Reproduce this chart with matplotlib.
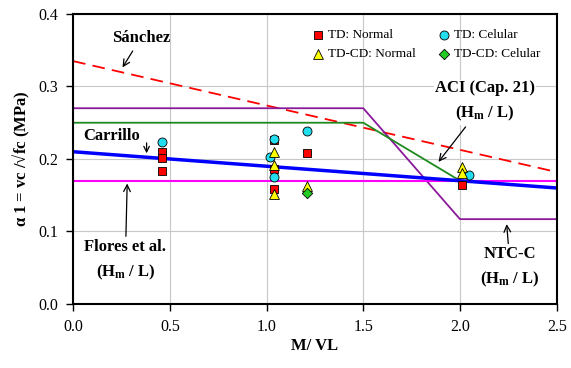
import numpy as np
import matplotlib
matplotlib.use("Agg")
import matplotlib.pyplot as plt

plt.rcParams['font.family'] = ['Liberation Serif', 'DejaVu Serif']
plt.rcParams['mathtext.fontset'] = 'custom'
plt.rcParams['mathtext.rm'] = 'Liberation Serif'
plt.rcParams['mathtext.bf'] = 'Liberation Serif:bold'
plt.rcParams['mathtext.it'] = 'Liberation Serif:italic'

# model curves
x_sanchez = [0.0, 2.5]
y_sanchez = [0.335, 0.182]
x_carrillo = [0.0, 2.5]
y_carrillo = [0.21, 0.16]
x_flores = [0.0, 2.5]
y_flores = [0.17, 0.17]
x_aci = [0.0, 1.5, 2.0]
y_aci = [0.25, 0.25, 0.17]
x_ntc = [0.0, 1.5, 2.0, 2.5]
y_ntc = [0.27, 0.27, 0.117, 0.117]

# test data
td_normal_x = [0.46, 0.46, 0.46, 1.04, 1.04, 1.04, 1.21, 2.01]
td_normal_y = [0.210, 0.201, 0.183, 0.226, 0.186, 0.159, 0.208, 0.164]
td_celular_x = [0.46, 1.04, 1.02, 1.04, 1.21, 2.045]
td_celular_y = [0.224, 0.227, 0.203, 0.175, 0.239, 0.178]
tdcd_normal_x = [1.04, 1.04, 1.04, 1.21, 2.01, 2.01]
tdcd_normal_y = [0.210, 0.192, 0.152, 0.163, 0.189, 0.180]
tdcd_celular_x = [1.21]
tdcd_celular_y = [0.153]

fig = plt.figure(figsize=(5.71, 3.68), dpi=100)
ax = fig.add_axes([0.128, 0.174, 0.847, 0.788])

ax.plot(x_sanchez, y_sanchez, color='red', lw=1.3, dashes=(7, 4), zorder=2)
ax.plot(x_ntc, y_ntc, color='#8B1A9B', lw=1.3, zorder=2)
ax.plot(x_aci, y_aci, color='#1E8A1E', lw=1.3, zorder=2)
ax.plot(x_flores, y_flores, color='#FF00FF', lw=1.5, zorder=2)
ax.plot(x_carrillo, y_carrillo, color='#0000FF', lw=2.5, zorder=2)

h1 = ax.scatter(td_normal_x, td_normal_y, marker='s', s=40, c='red', edgecolors='black', linewidths=0.6, zorder=3, label='TD: Normal')
h2 = ax.scatter(td_celular_x, td_celular_y, marker='o', s=42, c='#22DDEE', edgecolors='black', linewidths=0.6, zorder=4, label='TD: Celular')
h3 = ax.scatter(tdcd_normal_x, tdcd_normal_y, marker='^', s=50, c='yellow', edgecolors='black', linewidths=0.6, zorder=5, label='TD-CD: Normal')
h4 = ax.scatter(tdcd_celular_x, tdcd_celular_y, marker='D', s=28, c='#22CC22', edgecolors='black', linewidths=0.6, zorder=5, label='TD-CD: Celular')

ax.set_xlim(0, 2.5)
ax.set_ylim(0, 0.4)
ax.set_xticks(np.arange(0, 2.51, 0.5))
ax.set_yticks(np.arange(0, 0.41, 0.1))
ax.set_xticklabels(['%.1f' % v for v in np.arange(0, 2.51, 0.5)])
ax.set_yticklabels(['%.1f' % v for v in np.arange(0, 0.41, 0.1)])
ax.tick_params(direction='out', length=5, width=1, labelsize=11.5, pad=6)
ax.grid(True, color='#C8C8C8', lw=0.8, zorder=0)
ax.set_axisbelow(True)
for sp in ax.spines.values():
    sp.set_linewidth(1.5)

ax.set_xlabel('M/ VL', fontsize=12, fontweight='bold', labelpad=2)
ax.set_ylabel(r'$\mathbf{\alpha}$ 1 = vc /√fc (MPa)', fontsize=12, fontweight='bold', labelpad=4)

# column-major order so rows read TD / TD-CD
leg = ax.legend([h1, h3, h2, h4], ['TD: Normal', 'TD-CD: Normal', 'TD: Celular', 'TD-CD: Celular'],
                ncol=2, loc='upper right', bbox_to_anchor=(0.99, 0.99), frameon=False,
                fontsize=9.5, handletextpad=0.15, columnspacing=1.5, labelspacing=0.55,
                handlelength=1.2)

bold = dict(fontsize=12, fontweight='bold', ha='center', va='center')
box = dict(facecolor='white', edgecolor='none', pad=1)
arrow = dict(arrowstyle='->', color='black', lw=0.9)

ax.annotate('Sánchez', xy=(0.248, 0.323), xytext=(0.35, 0.367), arrowprops=arrow, **bold)
ax.text(0.2, 0.232, 'Carrillo', **bold)
ax.annotate('', xy=(0.38, 0.204), xytext=(0.38, 0.226), arrowprops=arrow)
ax.annotate('Flores et al.\n(H$_\\mathbf{m}$ / L)', xy=(0.28, 0.17), xytext=(0.27, 0.06),
            arrowprops=arrow, bbox=box, linespacing=1.6, **bold)
ax.annotate('ACI (Cap. 21)\n(H$_\\mathbf{m}$ / L)', xy=(1.88, 0.193), xytext=(2.13, 0.279),
            arrowprops=arrow, bbox=box, linespacing=1.6, **bold)
ax.annotate('NTC-C\n(H$_\\mathbf{m}$ / L)', xy=(2.24, 0.114), xytext=(2.26, 0.05),
            arrowprops=arrow, bbox=box, linespacing=1.6, **bold)

fig.savefig('out.png', dpi=100)
